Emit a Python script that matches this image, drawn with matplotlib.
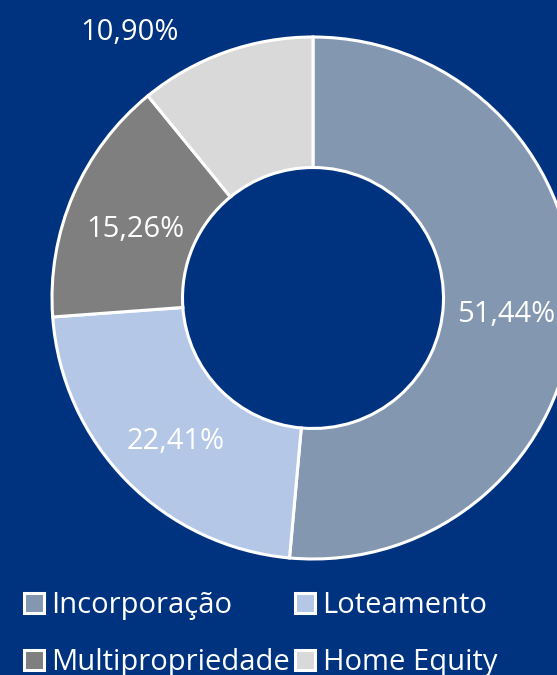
import numpy as np
import matplotlib.pyplot as plt
from matplotlib.patches import Patch

plt.rcParams['font.family'] = ['Open Sans', 'DejaVu Sans']

categorias = ['Incorporação', 'Loteamento', 'Multipropriedade', 'Home Equity']
valores = [51.44, 22.41, 15.26, 10.90]
cores = ['#8497B0', '#B4C7E7', '#7F7F7F', '#D9D9D9']
fundo = '#00337F'

fig = plt.figure(figsize=(5.57, 6.75), dpi=100, facecolor=fundo)
ax = fig.add_axes([0, 0, 1, 1])
ax.set_facecolor(fundo)
ax.axis('off')

# centro e raio em pixels
cx, cy, r = 313, 675 - 298, 261

wedges, _ = ax.pie(valores, colors=cores, startangle=90, counterclock=False,
                   center=(cx, cy), radius=r,
                   wedgeprops=dict(width=r * 0.5, edgecolor='white', linewidth=2.2))
ax.set_xlim(0, 557)
ax.set_ylim(0, 675)
ax.set_aspect('equal')

def fmt(v):
    return f"{v:.2f}".replace('.', ',') + '%'

# rótulos dentro das fatias
for i, w in enumerate(wedges[:3]):
    ang = np.deg2rad((w.theta1 + w.theta2) / 2)
    ax.text(cx + 0.74 * r * np.cos(ang), cy + 0.74 * r * np.sin(ang) - 8, fmt(valores[i]),
            color='white', fontsize=21, ha='center', va='center')
# Home Equity fica fora
ax.text(130, 675 - 32, fmt(valores[3]), color='white', fontsize=21, ha='center', va='center')

ordem = [0, 2, 1, 3]
handles = [Patch(facecolor=cores[i], edgecolor='white', linewidth=2.2) for i in ordem]
labels = [categorias[i] for i in ordem]
leg = fig.legend(handles, labels, ncol=2, loc='upper left',
                 bbox_to_anchor=(0.006, 0.154), frameon=False, fontsize=21,
                 labelcolor='white', handlelength=0.68, handleheight=0.68,
                 handletextpad=0.25, columnspacing=0.2, labelspacing=0.95,
                 borderpad=0.2)

fig.savefig('out.png', dpi=100, facecolor=fundo)
